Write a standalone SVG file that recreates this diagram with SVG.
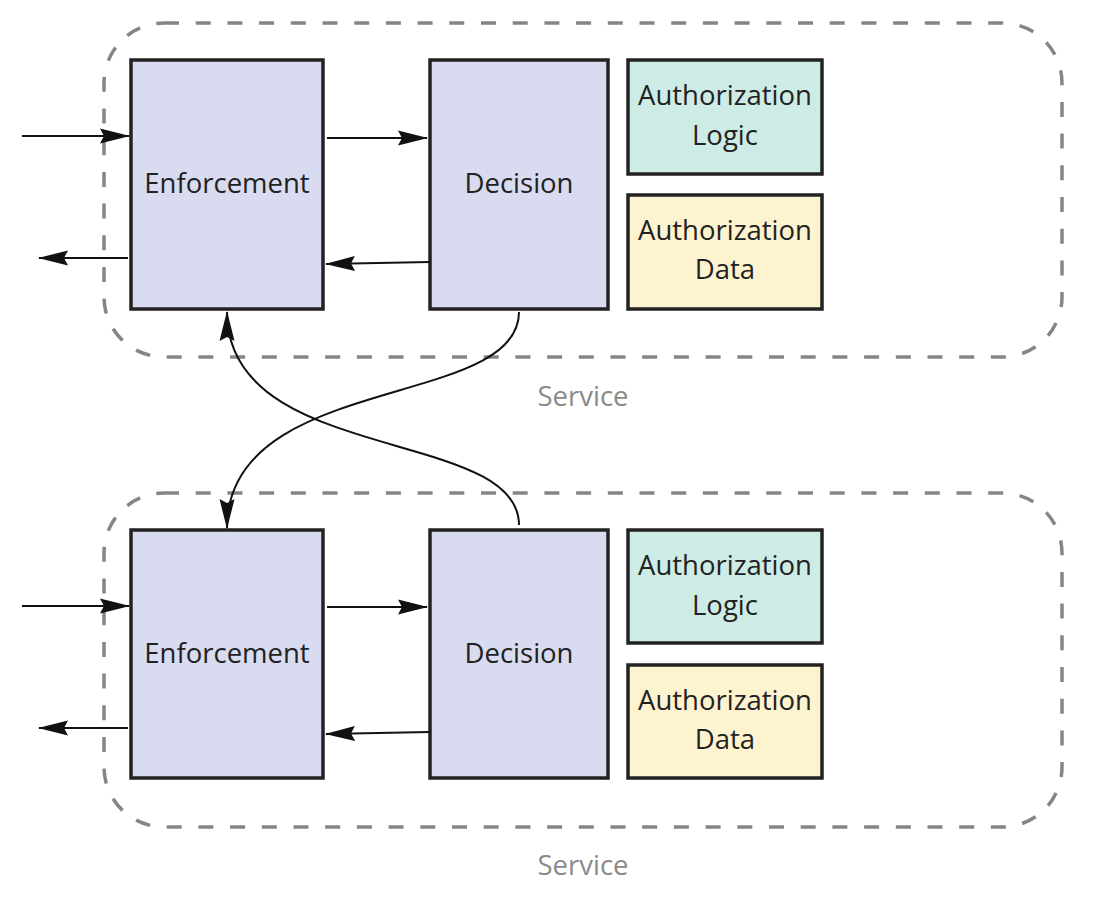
<svg xmlns="http://www.w3.org/2000/svg" width="1094" height="900" viewBox="0 0 1094 900">
<defs>
<marker id="ah" viewBox="0 0 30 16" refX="29" refY="8" markerWidth="30" markerHeight="16" markerUnits="userSpaceOnUse" orient="auto">
<path d="M0,0.5 L30,8 L0,15.5 L4,8 Z" fill="#111"/>
</marker>
</defs>
<style>
.svc{fill:none;stroke:#858585;stroke-width:3.5;stroke-dasharray:15 16.7}
.box{stroke:#222;stroke-width:3.5}
.pep{fill:#d9dbf0}
.logic{fill:#cdece5}
.data{fill:#fdf3cf}
.t{font-family:"Open Sans","Noto Sans",sans-serif;font-size:27.5px;fill:#222;text-anchor:middle}
.sl{font-family:"Open Sans","Noto Sans",sans-serif;font-size:27.5px;fill:#8a8a8a;text-anchor:middle}
.c{fill:none;stroke:#111;stroke-width:2;marker-end:url(#ah)}
</style>
<rect id="svc1" class="svc" x="104" y="23" width="958" height="334" rx="60" ry="60"/>
<text id="svc1-label" class="sl" x="583" y="406">Service</text>
<rect id="svc2" class="svc" x="104" y="493" width="958" height="334" rx="60" ry="60"/>
<text id="svc2-label" class="sl" x="583" y="875">Service</text>

<g id="enf1"><rect class="box pep" x="131" y="60" width="192" height="249"/><text class="t" x="227" y="193">Enforcement</text></g>
<g id="dec1"><rect class="box pep" x="430" y="60" width="178" height="249"/><text class="t" x="519" y="193">Decision</text></g>
<g id="logic1"><rect class="box logic" x="628" y="60" width="194" height="114"/><text class="t" x="725" y="105">Authorization</text><text class="t" x="725" y="145">Logic</text></g>
<g id="data1"><rect class="box data" x="628" y="195" width="194" height="114"/><text class="t" x="725" y="240">Authorization</text><text class="t" x="725" y="279">Data</text></g>

<g id="enf2"><rect class="box pep" x="131" y="530" width="192" height="248"/><text class="t" x="227" y="663">Enforcement</text></g>
<g id="dec2"><rect class="box pep" x="430" y="530" width="178" height="248"/><text class="t" x="519" y="663">Decision</text></g>
<g id="logic2"><rect class="box logic" x="628" y="530" width="194" height="113"/><text class="t" x="725" y="575">Authorization</text><text class="t" x="725" y="615">Logic</text></g>
<g id="data2"><rect class="box data" x="628" y="665" width="194" height="113"/><text class="t" x="725" y="710">Authorization</text><text class="t" x="725" y="749">Data</text></g>

<g id="connectors">
<path class="c" d="M22,136 L129,136"/>
<path class="c" d="M327,138 L427,138"/>
<path class="c" d="M430,262 L326,264"/>
<path class="c" d="M128,258 L39,258"/>
<path class="c" d="M22,606 L129,606"/>
<path class="c" d="M327,607 L427,607"/>
<path class="c" d="M430,732 L326,734"/>
<path class="c" d="M128,728 L39,728"/>
<path class="c" d="M519,312 C519,410 227,372 227,528"/>
<path class="c" d="M519,525 C519,427 227,465 227,312"/>
</g>
</svg>
